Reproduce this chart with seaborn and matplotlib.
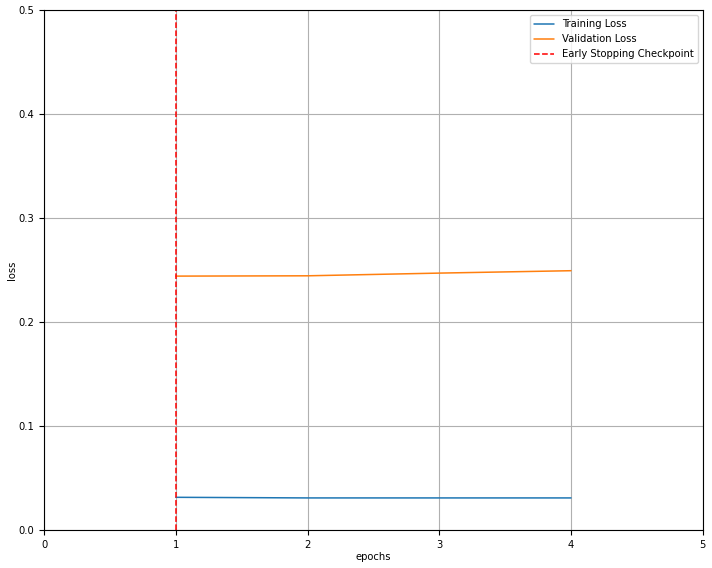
import pandas as pd
import matplotlib
matplotlib.use("Agg")
import matplotlib.pyplot as plt
import seaborn as sns

# loss history
epochs = [1, 2, 3, 4]
train_loss = [0.0314, 0.0308, 0.0308, 0.0308]
val_loss = [0.2442, 0.2445, 0.2471, 0.2494]
best_epoch = 1

df = pd.DataFrame({"epochs": epochs, "Training Loss": train_loss, "Validation Loss": val_loss})

sns.set_style("white")
plt.rcParams["font.size"] = 7.2
plt.rcParams["font.family"] = ["DejaVu Sans"]
plt.rcParams["text.color"] = "black"
plt.rcParams["axes.labelcolor"] = "black"
plt.rcParams["xtick.color"] = "black"
plt.rcParams["ytick.color"] = "black"

fig, ax = plt.subplots(figsize=(7.12, 5.68), dpi=100)
sns.lineplot(data=df, x="epochs", y="Training Loss", label="Training Loss", color="#1f77b4", linewidth=1.1, ax=ax)
sns.lineplot(data=df, x="epochs", y="Validation Loss", label="Validation Loss", color="#ff7f0e", linewidth=1.1, ax=ax)
ax.axvline(best_epoch, linestyle="--", color="r", linewidth=1.1, label="Early Stopping Checkpoint")

ax.set_xlim(0, 5)
ax.set_ylim(0, 0.5)
ax.set_xlabel("epochs", fontsize=7.2, labelpad=2)
ax.set_ylabel("loss", fontsize=7.2, labelpad=1)
ax.tick_params(labelsize=7.2, length=3.5, width=0.8, left=True, bottom=True)
ax.grid(True, color="#b0b0b0", linewidth=0.8)
for s in ax.spines.values():
    s.set_color("black")
    s.set_linewidth(0.8)
ax.legend(loc="upper right", fontsize=7.2, frameon=True)

plt.subplots_adjust(left=0.062, right=0.987, top=0.982, bottom=0.067)
plt.savefig("out.png", dpi=100)
